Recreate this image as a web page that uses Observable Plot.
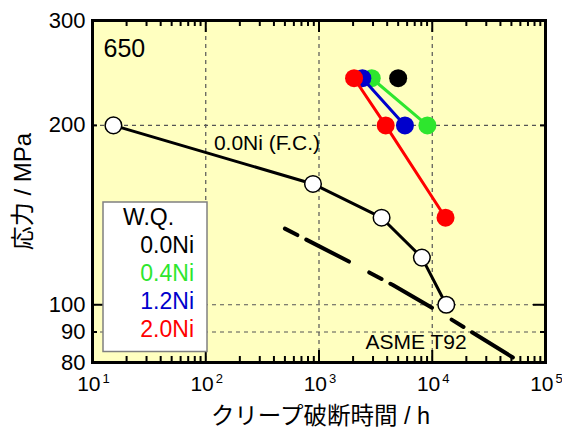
<!DOCTYPE html>
<html>
<head>
<meta charset="utf-8">
<script src="https://cdn.jsdelivr.net/npm/d3@7"></script>
<script src="https://cdn.jsdelivr.net/npm/@observablehq/plot@0.6"></script>
<style>
  body { margin: 0; background: #ffffff; }
  #chart { width: 562px; height: 430px; }
</style>
</head>
<body>
<div id="chart"></div>
<script>
// ---- data ----
const decades = [10, 100, 1000, 10000, 100000];
const exponents = ["1", "2", "3", "4", "5"];
const yTickValues = [80, 90, 100, 200, 300];
const gridX = [100, 1000, 10000];
const gridY = [90, 100, 200];

// furnace cooled 0.0Ni (open circles)
const fcTime = [15.3, 885, 3570, 8100, 13300];
const fcStress = [200, 159.5, 140, 120, 100];

// water quenched series
const wqLabels = ["0.0Ni", "0.4Ni", "1.2Ni", "2.0Ni"];
const wqColors = ["#000000", "#2ee62e", "#0000cc", "#ff0000"];
const wq00Time = [5000];          const wq00Stress = [240];
const wq04Time = [2920, 9060];    const wq04Stress = [240, 200];
const wq12Time = [2415, 5740];    const wq12Stress = [240, 200];
const wq20Time = [2040, 3880, 13100]; const wq20Stress = [240, 200, 140];

// ASME T92 reference curve
const asmeTime = [500, 1900, 4450, 10700, 56400, 62000];
const asmeStress = [134.2, 117.8, 108, 98.1, 80.7, 79.5];

// ---- layout ----
const W = 562, H = 430, mL = 92, mR = 17, mT = 20, mB = 68;
const frameW = W - mL - mR, frameH = H - mT - mB;
const FONT = '"Liberation Sans", Arial, "Noto Sans CJK JP", sans-serif';

const zip = (t, s) => t.map((v, i) => ({t: v, s: s[i]}));
const fc = zip(fcTime, fcStress);
const asme = zip(asmeTime, asmeStress);
const wqSeries = [
  {data: zip(wq04Time, wq04Stress), color: wqColors[1]},
  {data: zip(wq12Time, wq12Stress), color: wqColors[2]},
  {data: zip(wq20Time, wq20Stress), color: wqColors[3]},
  {data: zip(wq00Time, wq00Stress), color: wqColors[0]}
];

const minorX = d3.range(1, 5).flatMap(k => d3.range(2, 10).map(m => m * 10 ** k));
const majorY = [100];
const minorY = [80, 90, 200, 300];

const gridStyle = {stroke: "#555", strokeWidth: 1.2, strokeDasharray: "4,4"};
const tickStyle = {stroke: "#000", strokeWidth: 2};

const marks = [
  Plot.frame({fill: "#ffffc0", stroke: null}),
  Plot.ruleX(gridX, gridStyle),
  Plot.ruleY(gridY, gridStyle),
  Plot.line(asme, {x: "t", y: "s", stroke: "#000", strokeWidth: 4, strokeDasharray: "14,10,48,23", clip: true}),
  Plot.line(fc, {x: "t", y: "s", stroke: "#000", strokeWidth: 3}),
  Plot.dot(fc, {x: "t", y: "s", r: 8.3, fill: "#fff", stroke: "#000", strokeWidth: 1.5})
];
for (const s of wqSeries) {
  if (s.data.length > 1) marks.push(Plot.line(s.data, {x: "t", y: "s", stroke: s.color, strokeWidth: 3}));
  marks.push(Plot.dot(s.data, {x: "t", y: "s", r: 9, fill: s.color, stroke: null}));
}
marks.push(
  // inward ticks
  Plot.ruleX(decades, {...tickStyle, insetTop: frameH - 12}),
  Plot.ruleX(decades, {...tickStyle, insetBottom: frameH - 12}),
  Plot.ruleX(minorX, {...tickStyle, insetTop: frameH - 6}),
  Plot.ruleX(minorX, {...tickStyle, insetBottom: frameH - 6}),
  Plot.ruleY(majorY, {...tickStyle, insetRight: frameW - 12}),
  Plot.ruleY(majorY, {...tickStyle, insetLeft: frameW - 12}),
  Plot.ruleY(minorY, {...tickStyle, insetRight: frameW - 5}),
  Plot.ruleY(minorY, {...tickStyle, insetLeft: frameW - 5}),
  Plot.frame({stroke: "#000", strokeWidth: 3}),
  // y tick labels
  Plot.text(yTickValues, {y: d => d, frameAnchor: "left", dx: -7, textAnchor: "end", lineAnchor: "middle",
    text: d => String(d), fontSize: 22, fill: "#000"}),
  // x tick labels 10^k
  Plot.text(decades, {x: d => d, frameAnchor: "bottom", dy: 28.5, textAnchor: "end", lineAnchor: "bottom",
    text: () => "10", fontSize: 21, fill: "#000", dx: 8}),
  Plot.text(decades, {x: d => d, frameAnchor: "bottom", dy: 20, textAnchor: "start", lineAnchor: "bottom",
    text: (d, i) => exponents[i], fontSize: 13, fill: "#000", dx: 10}),
  // axis titles
  Plot.text(["応力 / MPa"], {frameAnchor: "left", dx: -69, rotate: -90, textAnchor: "middle", lineAnchor: "middle",
    fontSize: 24, fill: "#000"}),
  Plot.text(["クリープ破断時間 / h"], {frameAnchor: "bottom", dy: 54, dx: 1.5, textAnchor: "middle", lineAnchor: "middle",
    fontSize: 23.5, fill: "#000"}),
  // annotations
  Plot.text(["650"], {frameAnchor: "top-left", dx: 11, dy: 36.7, textAnchor: "start", lineAnchor: "bottom",
    fontSize: 25, fill: "#000"}),
  Plot.text([{t: 118, s: 182, label: "0.0Ni (F.C.)"}], {x: "t", y: "s", text: "label", textAnchor: "start",
    lineAnchor: "bottom", fontSize: 21, fill: "#000"}),
  Plot.text([{t: 2575, s: 84.3, label: "ASME T92"}], {x: "t", y: "s", text: "label", textAnchor: "start",
    lineAnchor: "bottom", fontSize: 21, fill: "#000"})
);

const chart = Plot.plot({
  width: W, height: H,
  marginLeft: mL, marginRight: mR, marginTop: mT, marginBottom: mB,
  style: {fontFamily: FONT, fontSize: "22px", background: "#fff", overflow: "visible"},
  x: {type: "log", domain: [10, 100000], axis: null},
  y: {type: "log", domain: [80, 300], axis: null},
  marks
});

// legend box (W.Q.)
const svg = d3.select(chart);
const lg = svg.append("g").attr("font-family", FONT).attr("font-size", 23);
lg.append("rect").attr("x", 103).attr("y", 202).attr("width", 104).attr("height", 149.5)
  .attr("fill", "#fff").attr("stroke", "#808080").attr("stroke-width", 1.5);
lg.append("text").attr("x", 123).attr("y", 225).attr("text-anchor", "start").attr("fill", "#000").text("W.Q.");
wqLabels.forEach((lab, i) => {
  lg.append("text").attr("x", 194).attr("y", 253.3 + 27.8 * i).attr("text-anchor", "end")
    .attr("fill", wqColors[i]).text(lab);
});

document.getElementById("chart").appendChild(chart);
</script>
</body>
</html>
